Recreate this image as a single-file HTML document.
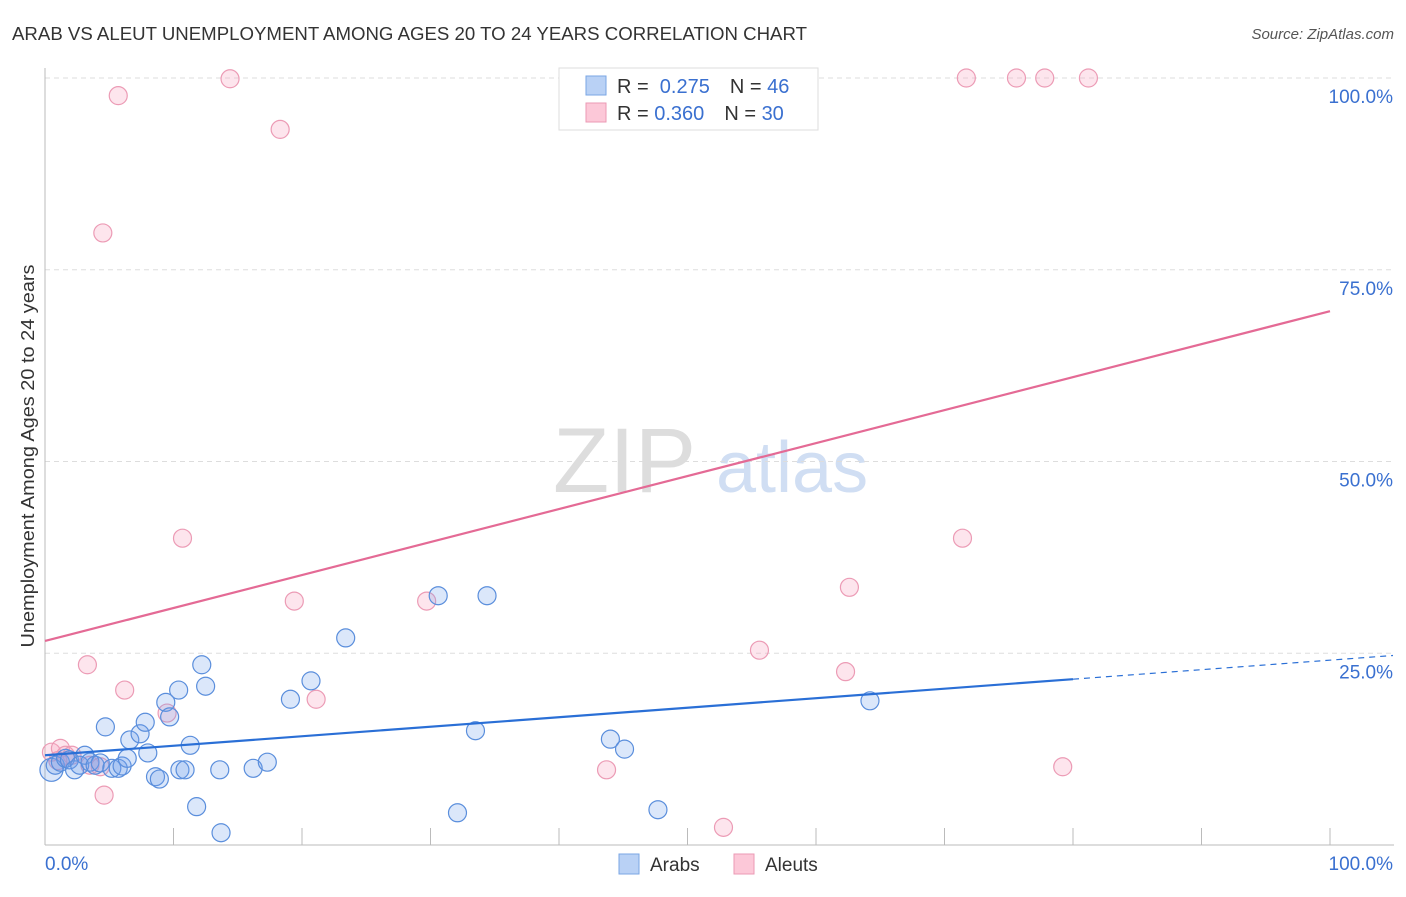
<!DOCTYPE html>
<html><head><meta charset="utf-8"><style>
body{margin:0;background:#fff;font-family:"Liberation Sans",sans-serif;}
svg text{font-family:"Liberation Sans",sans-serif;}
</style></head><body>
<svg id="chart" width="1406" height="892" xmlns="http://www.w3.org/2000/svg">
<text x="12" y="40" font-size="18" fill="#333" textLength="795" lengthAdjust="spacingAndGlyphs">ARAB VS ALEUT UNEMPLOYMENT AMONG AGES 20 TO 24 YEARS CORRELATION CHART</text>
<text x="1394" y="39" font-size="15" fill="#555" font-style="italic" text-anchor="end">Source: ZipAtlas.com</text>
<g>
<text x="553" y="492" font-size="92" fill="#ddd" font-family="Liberation Serif,serif">ZIP</text>
<text x="716" y="492" font-size="72" fill="#d0def3">atlas</text>
</g>
<g id="grid"></g>
<g id="axes"></g>
<g id="pts"></g>
<g id="trends"></g>
<text transform="translate(34,456) rotate(-90)" font-size="18" fill="#333" text-anchor="middle" textLength="383" lengthAdjust="spacingAndGlyphs">Unemployment Among Ages 20 to 24 years</text>
<g>
<rect x="559" y="68" width="259" height="62" fill="#fff" stroke="#ddd"/>
<rect x="586" y="76" width="20" height="19" fill="#b9d1f5" stroke="#7aa6e4"/>
<rect x="586" y="103" width="20" height="19" fill="#fcc8d8" stroke="#eb9ab4"/>
<text x="617" y="93" font-size="20" fill="#333">R = <tspan fill="#3a70d0">&#160;0.275</tspan><tspan dx="20">N = </tspan><tspan fill="#3a70d0">46</tspan></text>
<text x="617" y="120" font-size="20" fill="#333">R = <tspan fill="#3a70d0">0.360</tspan><tspan dx="20">N = </tspan><tspan fill="#3a70d0">30</tspan></text>
</g>
<g>
<rect x="619" y="854" width="20" height="20" fill="#b9d1f5" stroke="#7aa6e4"/>
<text x="650" y="871" font-size="19" fill="#333">Arabs</text>
<rect x="734" y="854" width="20" height="20" fill="#fcc8d8" stroke="#eb9ab4"/>
<text x="765" y="871" font-size="19" fill="#333">Aleuts</text>
</g>
</svg>
<script>
const yTicks=[25,50,75,100];
const yTickLabels=["25.0%","50.0%","75.0%","100.0%"];
const xTicks=[10,20,30,40,50,60,70,80,90,100];
const arabX=[0.5,0.8,1.2,1.6,1.9,2.3,2.7,3.1,3.5,3.9,4.3,4.7,5.2,5.7,6.0,6.4,6.6,7.4,7.8,8.0,8.6,8.9,9.4,9.7,10.4,10.5,10.9,11.3,11.8,12.2,12.5,13.6,13.7,16.2,17.3,19.1,20.7,23.4,30.6,33.5,34.4,32.1,44.0,45.1,47.7,64.2];
const arabY=[9.8,10.4,10.8,11.3,11.1,9.8,10.4,11.7,10.8,10.4,10.7,15.4,10.0,10.0,10.3,11.3,13.7,14.5,16.0,12.0,8.9,8.6,18.6,16.7,20.2,9.8,9.8,13.0,5.0,23.5,20.7,9.8,1.6,10.0,10.8,19.0,21.4,27.0,32.5,14.9,32.5,4.2,13.8,12.5,4.6,18.8];
const aleutX=[0.5,1.2,1.6,2.1,3.5,4.3,3.3,4.6,5.7,4.5,6.2,9.5,10.7,14.4,18.3,19.4,21.1,29.7,43.7,52.8,55.6,62.3,62.6,71.4,71.7,75.6,77.8,81.2,79.2,1.0];
const aleutY=[12.1,12.6,11.7,11.7,10.4,10.2,23.5,6.5,97.7,79.8,20.2,17.2,40.0,99.9,93.3,31.8,19.0,31.8,9.8,2.3,25.4,22.6,33.6,40.0,100,100,100,100,10.2,11.0];
const arabTrend=[11.7,0.124]; // intercept, slope
const aleutTrend=[26.6,0.43];
const X=v=>45+v*12.85, Y=v=>845-v*7.67;
const NS="http://www.w3.org/2000/svg";
function mk(p,tag,at){const e=document.createElementNS(NS,tag);for(const k in at)e.setAttribute(k,at[k]);p.appendChild(e);return e;}
const grid=document.getElementById('grid'),axes=document.getElementById('axes'),pts=document.getElementById('pts'),tr=document.getElementById('trends');
yTicks.forEach((t,i)=>{
 const l=mk(grid,'line',{x1:45,x2:1394,y1:Y(t),y2:Y(t),stroke:'#ddd','stroke-dasharray':'5,4'});
 
 
 const tx=mk(grid,'text',{x:1393,y:Y(t)+25,'font-size':19,fill:'#3a70d0','text-anchor':'end'});
 tx.textContent=yTickLabels[i];
 
 
});
let a=mk(axes,'line',{x1:45,x2:45,y1:68,y2:845,stroke:'#bbb'});


a=mk(axes,'line',{x1:45,x2:1394,y1:845,y2:845,stroke:'#bbb'});


xTicks.forEach(t=>{const l=mk(axes,'line',{x1:X(t),x2:X(t),y1:828,y2:845,stroke:'#bbb'});
 
 });
let t0=mk(axes,'text',{x:45,y:870,'font-size':19,fill:'#3a70d0'});t0.textContent='0.0%';


let t1=mk(axes,'text',{x:1393,y:870,'font-size':19,fill:'#3a70d0','text-anchor':'end'});t1.textContent='100.0%';


aleutX.forEach((v,i)=>{const c=mk(pts,'circle',{cx:X(v),cy:Y(aleutY[i]),r:9,fill:'rgba(248,170,195,0.3)',stroke:'#ec9bb5','stroke-width':1.2});
 
 });
arabX.forEach((v,i)=>{const c=mk(pts,'circle',{cx:X(v),cy:Y(arabY[i]),r:i==0?11.5:9,fill:'rgba(110,160,235,0.25)',stroke:'#5a8edc','stroke-width':1.2});
 
 });
let l=mk(tr,'line',{x1:X(0),y1:Y(aleutTrend[0]),x2:X(100),y2:Y(aleutTrend[0]+aleutTrend[1]*100),stroke:'#e46a95','stroke-width':2.2});


l=mk(tr,'line',{x1:X(0),y1:Y(arabTrend[0]),x2:X(80),y2:Y(arabTrend[0]+arabTrend[1]*80),stroke:'#2a6fd6','stroke-width':2.2});


l=mk(tr,'line',{x1:X(80),y1:Y(arabTrend[0]+arabTrend[1]*80),x2:X(104.9),y2:Y(arabTrend[0]+arabTrend[1]*104.9),stroke:'#2a6fd6','stroke-width':1.2,'stroke-dasharray':'6,5'});


</script>
</body></html>
